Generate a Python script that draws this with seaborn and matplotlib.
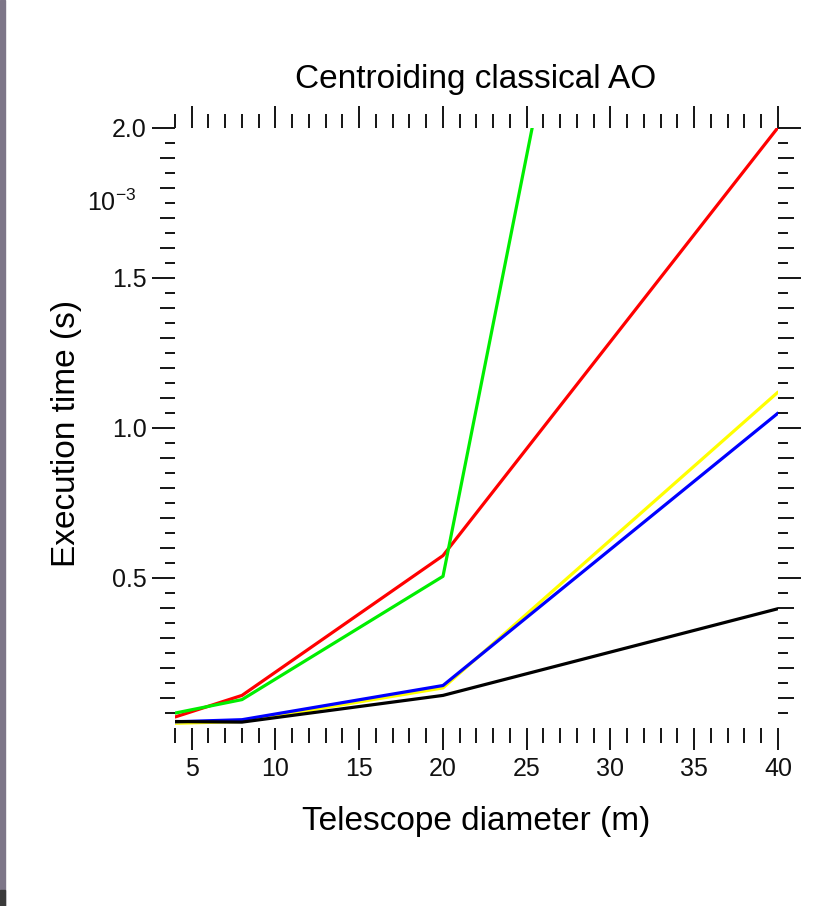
import numpy as np
import pandas as pd
import matplotlib
matplotlib.use("Agg")
import matplotlib.pyplot as plt
import matplotlib.transforms as mtransforms
from matplotlib.patches import Rectangle
from matplotlib.ticker import MultipleLocator, FixedLocator, NullFormatter
import seaborn as sns

# ---------------- data ----------------
diameter = [4, 8, 20, 40]
red_vals = [0.035, 0.107, 0.573, 2.0]
green_vals = [0.048, 0.093, 0.504, 6.12]
yellow_vals = [0.014, 0.020, 0.132, 1.118]
blue_vals = [0.019, 0.026, 0.140, 1.048]
black_vals = [0.020, 0.018, 0.107, 0.396]

series_names = ["red", "green", "yellow", "blue", "black"]
series_colors = ["#ff0000", "#00ee00", "#ffff00", "#0000ff", "#000000"]
y_major_ticks = [0.5, 1.0, 1.5, 2.0]
y_tick_labels = ["0.5", "1.0", "1.5", "2.0"]

title_text = "Centroiding classical AO"
xlabel_text = "Telescope diameter (m)"
ylabel_text = "Execution time (s)"
exponent_text = r"10$^{-3}$"

# ---------------- style ----------------
sns.set_style("white")
plt.rcParams["font.family"] = ["Liberation Sans", "DejaVu Sans"]
plt.rcParams["mathtext.fontset"] = "custom"
plt.rcParams["mathtext.rm"] = "Liberation Sans"
plt.rcParams["mathtext.it"] = "Liberation Sans"
plt.rcParams["mathtext.default"] = "rm"

W, H = 828, 906
fig = plt.figure(figsize=(W / 100, H / 100), dpi=100)
fig.patch.set_facecolor("white")

# left decorative strip (window edge)
fig.patches.append(Rectangle((0, 0), 5 / W, 1, transform=fig.transFigure,
                             color="#7d7688", zorder=0))
fig.patches.append(Rectangle((0, 0), 5 / W, 16 / H, transform=fig.transFigure,
                             color="#3a3a3a", zorder=1))

left_px, right_px, top_px, bottom_px = 175, 778, 127.5, 727.5
ax = fig.add_axes([left_px / W, (H - bottom_px) / H,
                   (right_px - left_px) / W, (bottom_px - top_px) / H])

df = pd.DataFrame({
    "diameter": diameter * len(series_names),
    "time": red_vals + green_vals + yellow_vals + blue_vals + black_vals,
    "series": np.repeat(series_names, len(diameter)),
})

sns.lineplot(data=df, x="diameter", y="time", hue="series",
             palette=dict(zip(series_names, series_colors)),
             hue_order=series_names, linewidth=2.3, legend=False, ax=ax,
             sort=False)

ax.set_xlim(4, 40)
ax.set_ylim(0, 2.0)

# twin axes used only for the medium (0.1) y ticks
ax2 = ax.twinx()
ax2.set_ylim(ax.get_ylim())
for s in list(ax.spines.values()) + list(ax2.spines.values()):
    s.set_visible(False)

tick_col = "#1a1a1a"
px = 72 / 100  # points per pixel

# x axis ticks (bottom and top)
ax.xaxis.set_major_locator(MultipleLocator(5))
ax.xaxis.set_minor_locator(MultipleLocator(1))
ax.tick_params(axis="x", which="major", direction="out", bottom=True, top=True,
               length=22 * px, width=2 * px, color=tick_col, labelsize=18,
               pad=7 * px, labelcolor="#111111")
ax.tick_params(axis="x", which="minor", direction="out", bottom=True, top=True,
               length=14.5 * px, width=2 * px, color=tick_col)

# y axis ticks (left and right)
ax.yaxis.set_major_locator(FixedLocator(y_major_ticks))
ax.set_yticklabels(y_tick_labels)
ax.yaxis.set_minor_locator(FixedLocator(np.round(np.arange(0.05, 2.0, 0.1), 2)))
ax.tick_params(axis="y", which="major", direction="out", left=True, right=True,
               labelleft=True, labelright=False,
               length=23 * px, width=2 * px, color=tick_col, labelsize=18,
               pad=5 * px, labelcolor="#111111")
ax.tick_params(axis="y", which="minor", direction="out", left=True, right=True,
               length=10 * px, width=2 * px, color=tick_col)

ax2.yaxis.set_major_locator(FixedLocator(np.round(np.arange(0.1, 2.0, 0.1), 2)))
ax2.yaxis.set_major_formatter(NullFormatter())
ax2.yaxis.set_minor_locator(FixedLocator([]))
ax2.tick_params(axis="y", which="major", direction="out", left=True, right=True,
                labelleft=False, labelright=False,
                length=15.5 * px, width=2 * px, color=tick_col)

# exponent label
trans = mtransforms.blended_transform_factory(ax.transAxes, ax.transData)
ax.text(-0.064, 1.75, exponent_text, transform=trans, ha="right", va="center",
        fontsize=18, color="#111111")

# labels and title
ax.set_xlabel(xlabel_text, fontsize=24, va="baseline", color="#000000")
ax.xaxis.set_label_coords(0.5, -(830 - bottom_px) / (bottom_px - top_px))
ax.set_ylabel(ylabel_text, fontsize=24, va="center", ha="center", color="#000000")
ax.yaxis.set_label_coords(-(left_px - 67) / (right_px - left_px), 0.49)

fig.text(476 / W, 1 - 88 / H, title_text, ha="center", va="baseline",
         fontsize=24, color="#000000")

fig.savefig("out.png", dpi=100)
